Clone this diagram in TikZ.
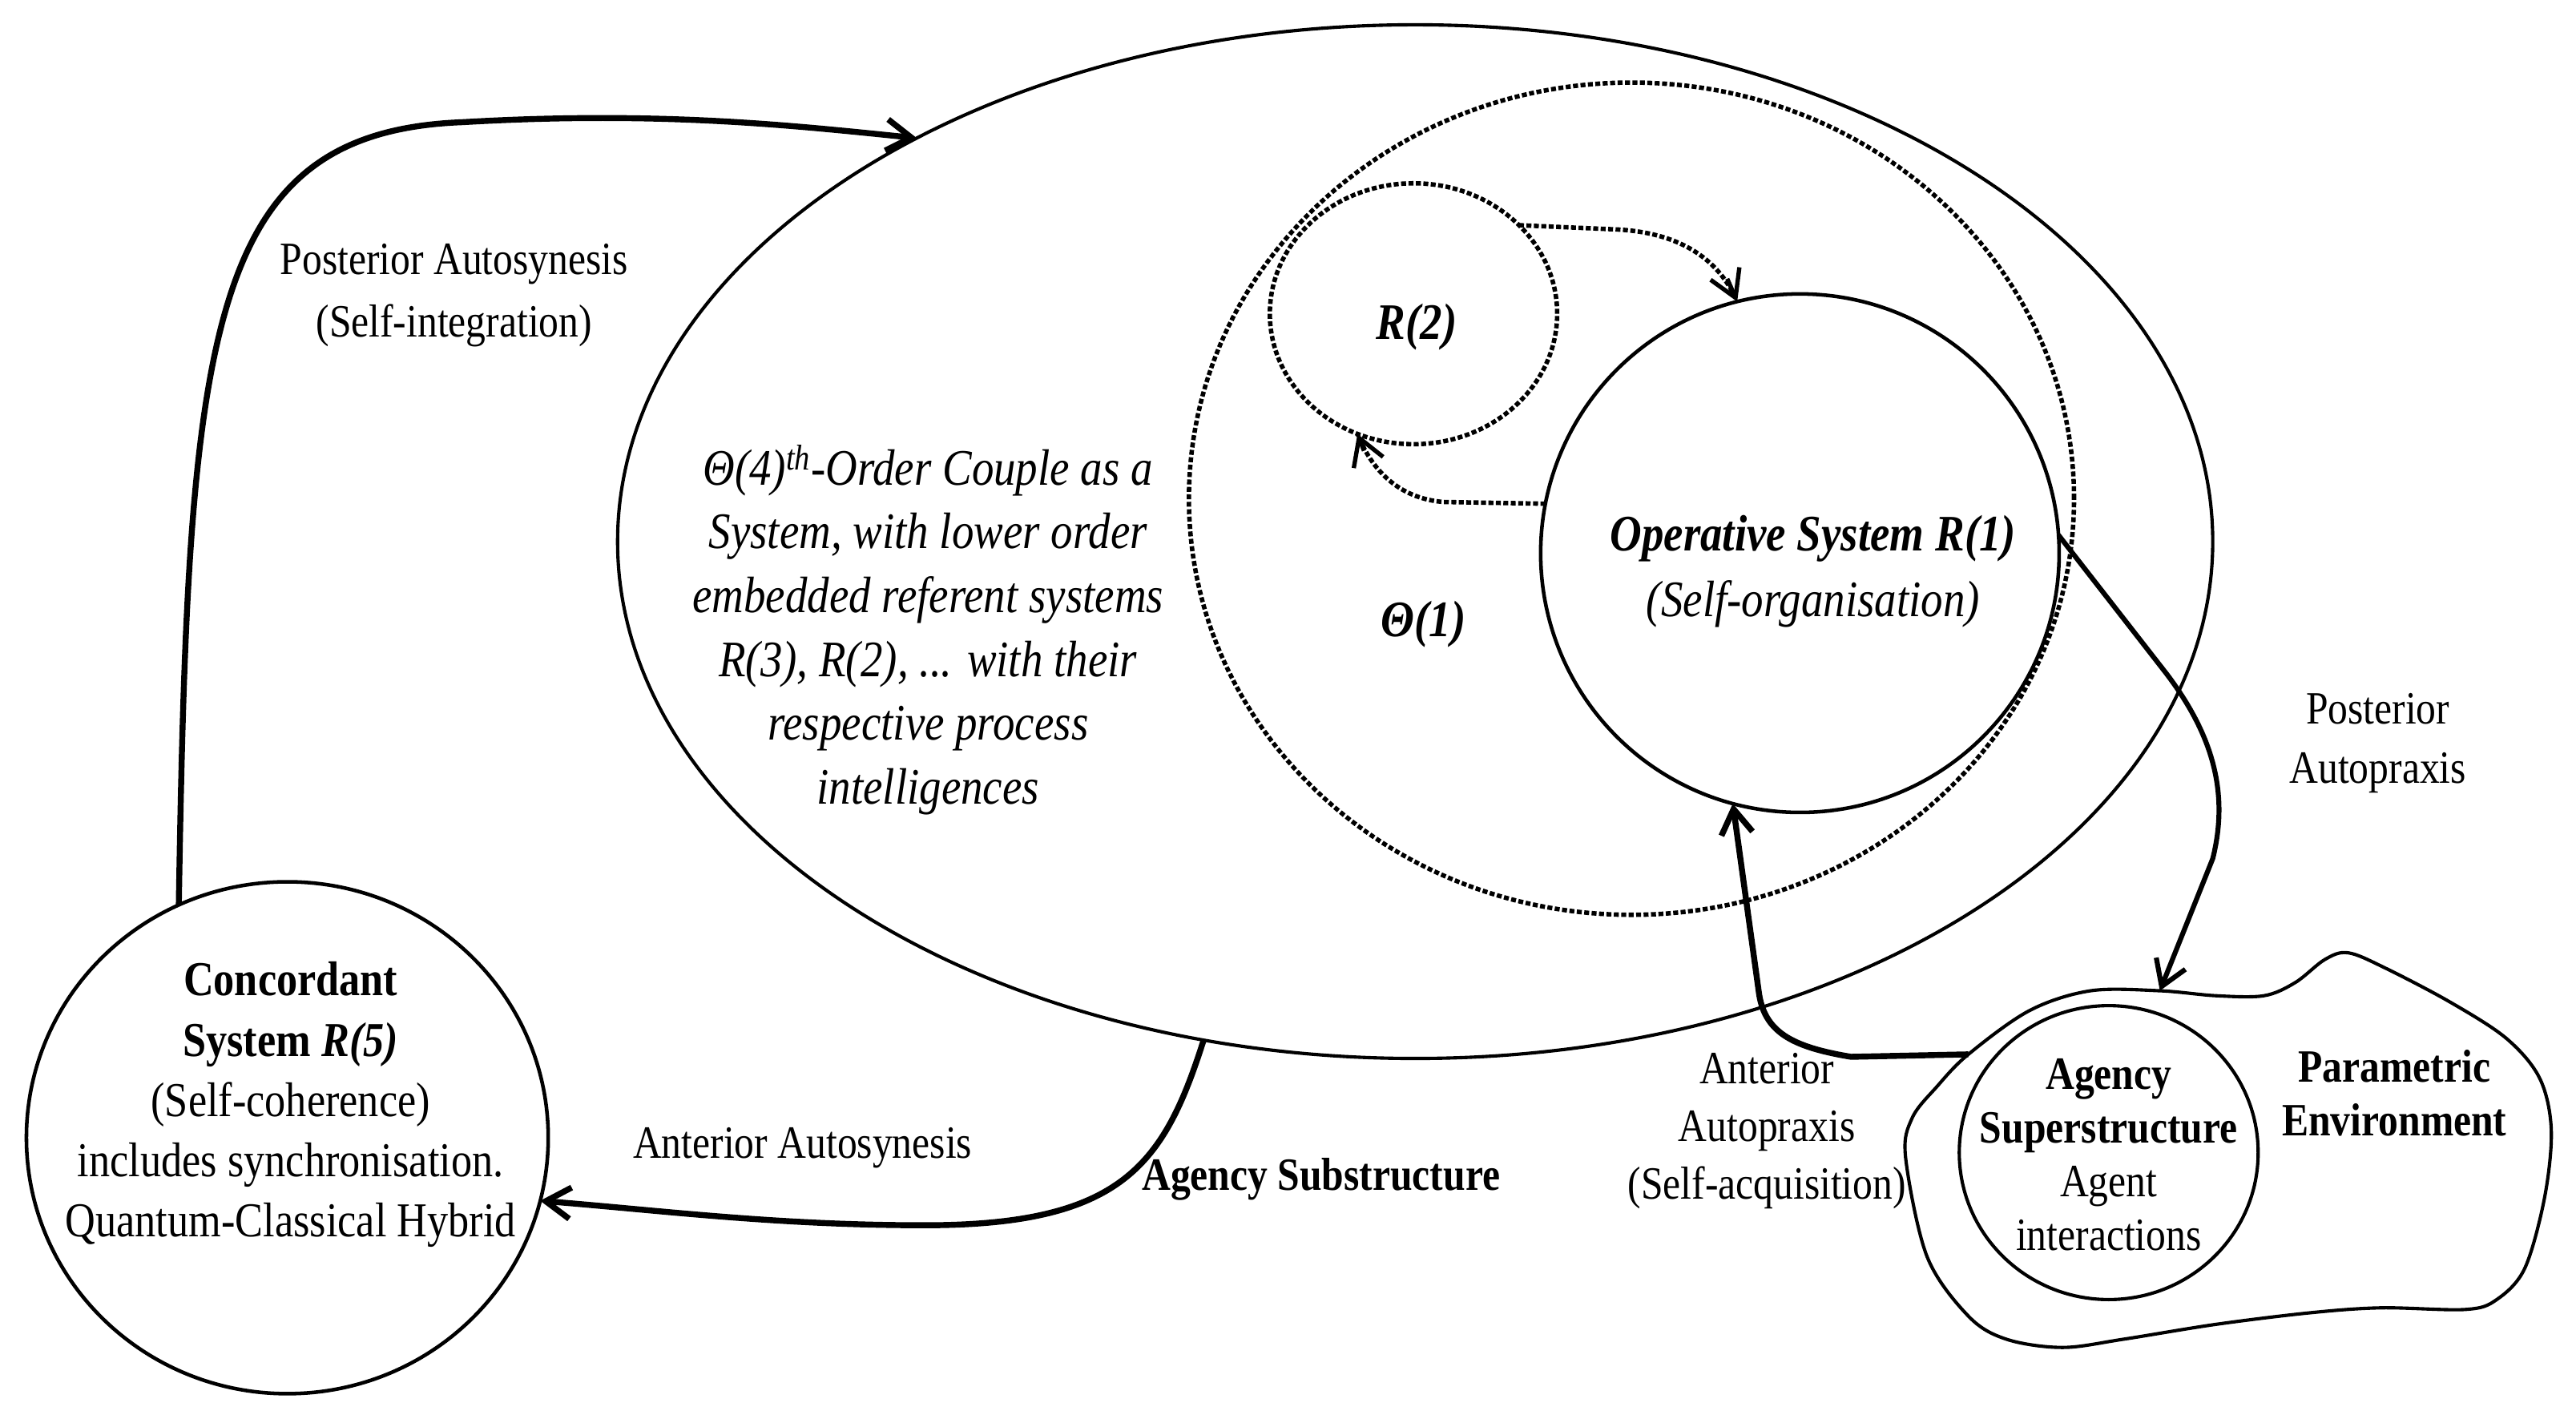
\documentclass[tikz,border=0pt]{standalone}
\usepackage{fontspec}
\setmainfont{Liberation Serif}[FakeStretch=0.86]
\usetikzlibrary{shapes.geometric,arrows.meta}
\begin{document}
\begin{tikzpicture}[x=1pt,y=-1pt,
  shell/.style={draw, ellipse, inner sep=0pt, outer sep=0pt, line width=2.2pt},
  dotshell/.style={draw, ellipse, inner sep=0pt, outer sep=0pt, line width=2.7pt, dash pattern=on 3pt off 1.5pt},
  flow/.style={line width=3.6pt, -{Straight Barb[length=15pt,width=19pt]}},
  thinflow/.style={line width=3pt, -{Straight Barb[length=15pt,width=19pt]}},
  dline/.style={line width=2.7pt, dash pattern=on 3pt off 1.5pt},
  dtip/.style={solid, line width=2.6pt, -{Straight Barb[length=16pt,width=19pt]}},
  lbl/.style={align=center, inner sep=0pt, font=\fontsize{28}{36}\selectfont},
  ilbl/.style={align=center, inner sep=0pt, font=\fontsize{31}{38.6}\selectfont\itshape},
  blbl/.style={align=center, inner sep=0pt, font=\fontsize{28}{32.5}\selectfont\bfseries}
]
\useasboundingbox (0,0) rectangle (1560,861.3);

% shapes
\node[shell, line width=2pt, minimum width=966pt, minimum height=626pt] (big) at (857,328) {};
\node[dotshell, minimum width=536pt, minimum height=504pt] (theta) at (988,302) {};
\node[dotshell, minimum width=174pt, minimum height=158pt] (rtwo) at (856,190) {};
\node[shell, minimum width=314pt, minimum height=314pt] (op) at (1090,335) {};
\node[shell, minimum width=316pt, minimum height=310pt] (conc) at (174,689) {};
\node[shell, line width=2pt, minimum width=181pt, minimum height=178pt] (agency) at (1277,698) {};

% parametric environment blob
\coordinate (bA) at (1192,638.5);
\coordinate (bT) at (1308,600);
\draw[line width=2pt] plot[smooth cycle, tension=0.55] coordinates {
  (1192,638.5) (1229,612) (1266,600) (1308,600) (1342,603) (1371,603)
  (1390,595) (1408,581) (1422,577) (1444,586) (1484,607) (1518,629)
  (1538,653) (1545,684) (1541,725) (1529,768) (1512,787) (1493,793)
  (1442,792) (1399,795) (1342,802) (1286,811) (1249,816) (1215,811)
  (1192,797) (1167,761) (1154,701) (1158,677) (1173,658)};

% texts
\node[ilbl] (t4) at (562,381.5) {Θ(4)\textsuperscript{th}-Order Couple as a\\System, with lower order\\embedded referent systems\\R(3), R(2), ... with their\\respective process\\intelligences};
\node[ilbl] (trtwo) at (858,198) {\bfseries R(2)};
\node[ilbl] (tthetaone) at (862,378) {\bfseries Θ(1)};
\node[ilbl, font=\fontsize{31}{40}\selectfont\itshape] (top) at (1098,346) {\textbf{Operative System R(1)}\\(Self-organisation)};
\node[lbl, font=\fontsize{29.5}{36.5}\selectfont] (tconc) at (176,669) {\textbf{Concordant}\\\textbf{System \textit{R(5)}}\\(Self-coherence)\\includes synchronisation.\\Quantum-Classical Hybrid};
\node[lbl, font=\fontsize{28}{38}\selectfont] (tpas) at (275,179) {Posterior Autosynesis\\(Self-integration)};
\node[lbl] (taas) at (486,695) {Anterior Autosynesis};
\node[lbl, font=\fontsize{28}{36}\selectfont\bfseries] (tsub) at (800,714) {Agency Substructure};
\node[lbl] (tpap) at (1440,450) {Posterior\\Autopraxis};
\node[lbl, font=\fontsize{28}{35}\selectfont] (taap) at (1070,685) {Anterior\\Autopraxis\\(Self-acquisition)};
\node[lbl, font=\fontsize{28}{32.5}\selectfont] (tag) at (1277,699.5) {\textbf{Agency}\\\textbf{Superstructure}\\Agent\\interactions};
\node[blbl] (tpar) at (1450,662) {Parametric\\Environment};

% connectors
\draw[flow] (conc.115) .. controls (114,200) and (125,80) .. (280,74) .. controls (400,67) and (480,76) .. (big.141);
\draw[flow] (big.247) .. controls (705,705) and (680,742) .. (560,742) .. controls (470,742) and (400,733) .. (conc.-14);
\draw[thinflow] (op.4) -- (1312,408) .. controls (1340,445) and (1350,480) .. (1340,520) -- (bT);
\draw[flow] (bA) -- (1121,640) .. controls (1085,634) and (1068,625) .. (1065,600) -- (op.-105);
% dotted connectors (solid heads)
\coordinate (eE) at (1046,168.8);
\coordinate (eF) at (826,273);
\draw[dline] (rtwo.40) -- (980,139) .. controls (1015,141) and (1040,155) .. (op.104);
\draw[dtip] (eE) -- (op.104);
\draw[dline] (op.169) -- (874,304) .. controls (850,302) and (832,288) .. (rtwo.245);
\draw[dtip] (eF) -- (rtwo.245);
\end{tikzpicture}
\end{document}
